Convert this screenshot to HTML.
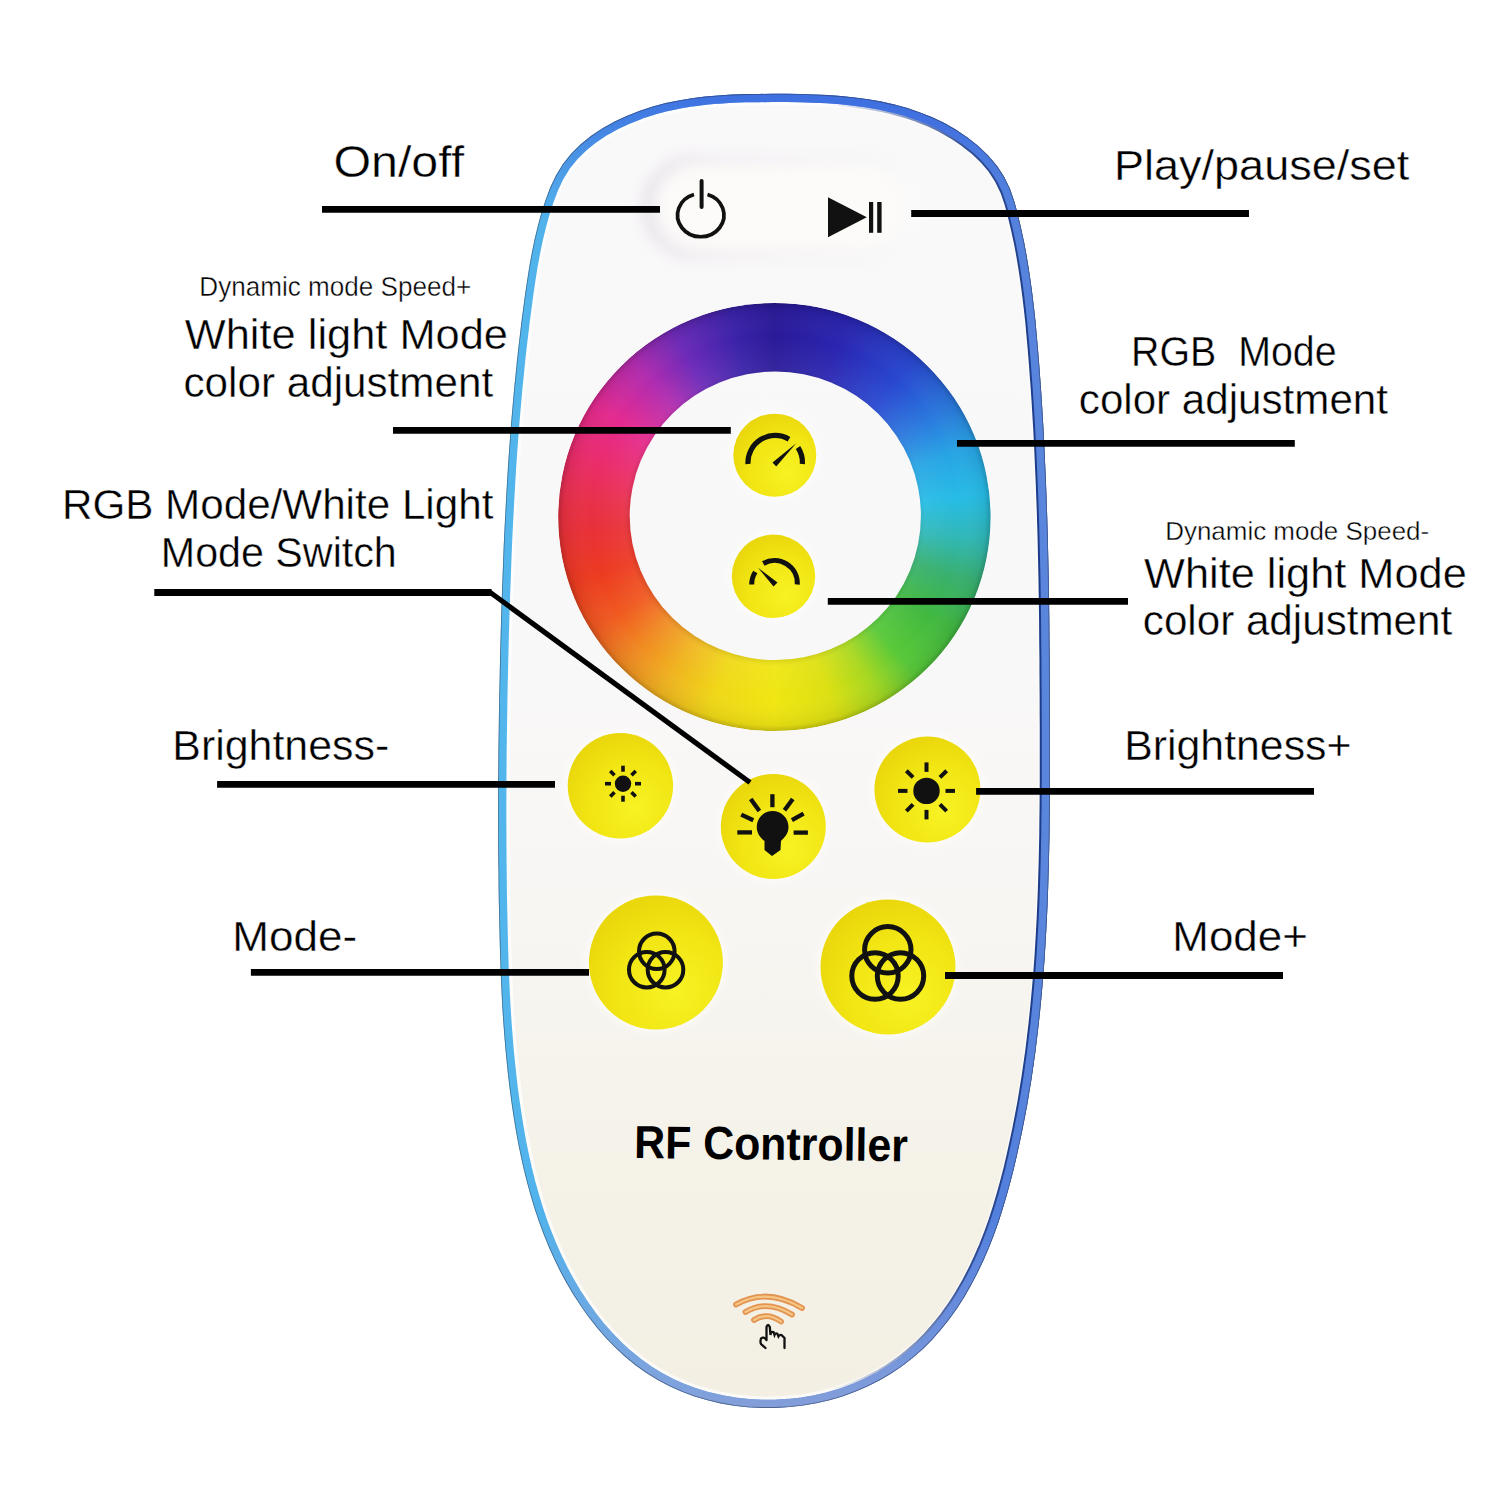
<!DOCTYPE html>
<html><head><meta charset="utf-8"><style>
html,body{margin:0;padding:0;background:#fff;width:1500px;height:1500px;overflow:hidden}
svg{display:block}
text{font-family:"Liberation Sans",sans-serif;fill:#000;white-space:pre}
text.lbl{stroke:#fff;stroke-width:0.4px}
</style></head><body>
<svg width="1500" height="1500" viewBox="0 0 1500 1500">
<defs>
<linearGradient id="bandH" x1="500" y1="0" x2="1050" y2="0" gradientUnits="userSpaceOnUse">
<stop offset="0" stop-color="#52b6ec"/><stop offset="0.3" stop-color="#4fa8e8"/><stop offset="0.55" stop-color="#4a86e2"/><stop offset="0.8" stop-color="#4a78de"/><stop offset="1" stop-color="#5a86dc"/>
</linearGradient>
<linearGradient id="bandV" x1="0" y1="90" x2="0" y2="1410" gradientUnits="userSpaceOnUse">
<stop offset="0" stop-color="#3c6ce0" stop-opacity="0.95"/><stop offset="0.035" stop-color="#4070e0" stop-opacity="0.6"/><stop offset="0.1" stop-color="#4a80e0" stop-opacity="0"/><stop offset="0.85" stop-color="#8aa4dc" stop-opacity="0"/><stop offset="0.97" stop-color="#8aa2da" stop-opacity="0.75"/><stop offset="1" stop-color="#8aa0d8" stop-opacity="0.9"/>
</linearGradient>
<linearGradient id="navy" x1="500" y1="0" x2="1050" y2="0" gradientUnits="userSpaceOnUse">
<stop offset="0" stop-color="#1a3a80" stop-opacity="0"/><stop offset="0.6" stop-color="#1a3a80" stop-opacity="0"/><stop offset="0.85" stop-color="#1a3a88" stop-opacity="0.9"/><stop offset="1" stop-color="#1a3a88" stop-opacity="1"/>
</linearGradient>
<linearGradient id="bodyfill" x1="0" y1="90" x2="0" y2="1410" gradientUnits="userSpaceOnUse">
<stop offset="0" stop-color="#faf9fa"/><stop offset="0.45" stop-color="#f9f8f8"/><stop offset="0.62" stop-color="#f8f6f3"/><stop offset="0.8" stop-color="#f5f2e9"/><stop offset="1" stop-color="#f3efe3"/>
</linearGradient>
<radialGradient id="ringshade" cx="0.5" cy="0.5" r="0.5">
<stop offset="0.66" stop-color="#000" stop-opacity="0.12"/><stop offset="0.70" stop-color="#fff" stop-opacity="0.05"/><stop offset="0.85" stop-color="#fff" stop-opacity="0"/><stop offset="0.975" stop-color="#000" stop-opacity="0.06"/><stop offset="1" stop-color="#000" stop-opacity="0.2"/>
</radialGradient>
<mask id="ringmask" maskUnits="userSpaceOnUse" x="500" y="250" width="550" height="550">
<ellipse cx="774.4" cy="517" rx="216.2" ry="214" fill="#fff"/>
<ellipse cx="775.3" cy="515.8" rx="145.6" ry="144.3" fill="#000"/>
</mask>
<clipPath id="bodyclip"><path d="M772.5,93.8 L786.2,93.8 L799.9,94.0 L813.6,94.4 L827.3,95.1 L841.0,96.1 L854.5,97.5 L868.0,99.3 L881.2,101.6 L894.3,104.6 L907.2,108.1 L919.9,112.4 L932.2,117.3 L944.3,123.1 L956.0,129.8 L967.4,137.4 L978.2,145.9 L988.1,155.4 L996.9,165.7 L1004.2,177.0 L1010.0,189.0 L1014.4,201.7 L1017.9,214.8 L1021.0,227.9 L1023.9,241.2 L1026.4,254.5 L1028.6,267.8 L1030.6,281.2 L1032.4,294.6 L1034.0,308.1 L1035.5,321.6 L1036.7,335.1 L1037.9,348.6 L1039.0,362.1 L1040.0,375.6 L1041.0,389.1 L1041.9,402.6 L1042.7,416.1 L1043.5,429.6 L1044.2,443.1 L1044.8,456.6 L1045.4,470.1 L1046.0,483.6 L1046.5,497.0 L1047.0,510.5 L1047.4,524.0 L1047.8,537.5 L1048.1,551.0 L1048.4,564.5 L1048.7,578.0 L1048.9,591.5 L1049.1,605.0 L1049.3,618.5 L1049.4,632.0 L1049.5,645.5 L1049.7,659.0 L1049.7,672.5 L1049.8,686.1 L1049.9,699.6 L1049.9,713.1 L1050.0,726.7 L1050.0,740.2 L1050.0,753.8 L1050.0,767.4 L1050.0,780.9 L1049.9,794.5 L1049.8,808.1 L1049.6,821.6 L1049.5,835.2 L1049.2,848.8 L1048.9,862.3 L1048.5,875.9 L1048.1,889.4 L1047.6,903.0 L1047.0,916.5 L1046.3,930.0 L1045.5,943.6 L1044.7,957.1 L1043.7,970.5 L1042.6,984.0 L1041.4,997.5 L1040.1,1010.9 L1038.7,1024.3 L1037.1,1037.7 L1035.5,1051.1 L1033.6,1064.5 L1031.7,1077.8 L1029.5,1091.1 L1027.3,1104.4 L1024.8,1117.7 L1022.2,1130.9 L1019.4,1144.1 L1016.5,1157.3 L1013.4,1170.5 L1010.0,1183.6 L1006.4,1196.6 L1002.5,1209.6 L998.4,1222.4 L993.8,1235.2 L988.9,1247.8 L983.5,1260.2 L977.7,1272.5 L971.4,1284.5 L964.6,1296.4 L957.3,1307.9 L949.4,1319.0 L941.0,1329.6 L932.1,1339.8 L922.6,1349.3 L912.5,1358.1 L901.9,1366.3 L890.8,1373.7 L879.3,1380.5 L867.3,1386.5 L855.0,1391.8 L842.3,1396.4 L829.3,1400.2 L816.1,1403.3 L802.7,1405.6 L789.1,1407.1 L775.4,1407.9 L761.7,1407.9 L748.0,1407.2 L734.4,1405.7 L720.9,1403.4 L707.7,1400.3 L694.6,1396.4 L682.0,1391.7 L669.6,1386.3 L657.8,1380.0 L646.4,1373.0 L635.5,1365.2 L625.1,1356.7 L615.2,1347.6 L605.9,1338.0 L597.0,1327.8 L588.6,1317.1 L580.8,1306.1 L573.4,1294.7 L566.5,1283.0 L560.1,1271.2 L554.2,1259.0 L548.7,1246.7 L543.6,1234.2 L538.9,1221.5 L534.6,1208.7 L530.7,1195.7 L527.1,1182.6 L523.8,1169.4 L520.8,1156.1 L518.1,1142.8 L515.7,1129.4 L513.5,1115.9 L511.5,1102.5 L509.7,1089.0 L508.1,1075.6 L506.7,1062.1 L505.4,1048.7 L504.3,1035.3 L503.3,1021.8 L502.4,1008.4 L501.7,995.0 L501.1,981.5 L500.5,968.1 L500.1,954.6 L499.7,941.2 L499.4,927.7 L499.1,914.2 L498.8,900.7 L498.6,887.2 L498.5,873.7 L498.3,860.2 L498.2,846.6 L498.2,833.1 L498.1,819.6 L498.1,806.0 L498.2,792.5 L498.2,778.9 L498.3,765.3 L498.4,751.8 L498.6,738.2 L498.8,724.6 L499.0,711.1 L499.2,697.5 L499.5,683.9 L499.8,670.4 L500.1,656.8 L500.4,643.3 L500.8,629.8 L501.2,616.2 L501.6,602.7 L502.1,589.2 L502.6,575.7 L503.1,562.2 L503.6,548.7 L504.2,535.2 L504.9,521.7 L505.6,508.2 L506.3,494.8 L507.1,481.3 L507.9,467.8 L508.8,454.4 L509.8,440.9 L510.8,427.4 L511.9,414.0 L513.1,400.5 L514.3,387.1 L515.7,373.6 L517.0,360.2 L518.5,346.7 L520.1,333.2 L521.7,319.8 L523.5,306.3 L525.3,292.8 L527.3,279.4 L529.4,265.9 L531.9,252.6 L534.6,239.3 L537.8,226.1 L541.3,213.1 L545.5,200.2 L550.2,187.6 L555.9,175.5 L562.8,164.2 L571.1,153.8 L580.7,144.3 L591.2,135.8 L602.6,128.2 L614.7,121.5 L627.2,115.7 L639.9,110.7 L652.8,106.6 L665.7,103.1 L678.8,100.4 L691.9,98.2 L705.2,96.6 L718.5,95.4 L731.9,94.6 L745.3,94.1 L758.9,93.9Z"/></clipPath>
<radialGradient id="yel" cx="0.62" cy="0.68" r="0.75" fx="0.65" fy="0.72">
<stop offset="0" stop-color="#f8f224"/><stop offset="0.55" stop-color="#f2e614"/><stop offset="1" stop-color="#e8d40a"/>
</radialGradient>
<linearGradient id="recG" x1="641" y1="0" x2="919" y2="0" gradientUnits="userSpaceOnUse">
<stop offset="0" stop-color="#d8d0dc" stop-opacity="0.75"/><stop offset="0.3" stop-color="#ddd6e0" stop-opacity="0.35"/><stop offset="0.7" stop-color="#e4dfe4" stop-opacity="0.2"/><stop offset="1" stop-color="#ffffff" stop-opacity="0.6"/>
</linearGradient>
<filter id="soft" x="-20%" y="-20%" width="140%" height="140%"><feGaussianBlur stdDeviation="3"/></filter>
<filter id="blur8" x="-30%" y="-30%" width="160%" height="160%"><feGaussianBlur stdDeviation="8"/></filter>
</defs>
<!-- remote body -->
<path d="M772.5,93.8 L786.2,93.8 L799.9,94.0 L813.6,94.4 L827.3,95.1 L841.0,96.1 L854.5,97.5 L868.0,99.3 L881.2,101.6 L894.3,104.6 L907.2,108.1 L919.9,112.4 L932.2,117.3 L944.3,123.1 L956.0,129.8 L967.4,137.4 L978.2,145.9 L988.1,155.4 L996.9,165.7 L1004.2,177.0 L1010.0,189.0 L1014.4,201.7 L1017.9,214.8 L1021.0,227.9 L1023.9,241.2 L1026.4,254.5 L1028.6,267.8 L1030.6,281.2 L1032.4,294.6 L1034.0,308.1 L1035.5,321.6 L1036.7,335.1 L1037.9,348.6 L1039.0,362.1 L1040.0,375.6 L1041.0,389.1 L1041.9,402.6 L1042.7,416.1 L1043.5,429.6 L1044.2,443.1 L1044.8,456.6 L1045.4,470.1 L1046.0,483.6 L1046.5,497.0 L1047.0,510.5 L1047.4,524.0 L1047.8,537.5 L1048.1,551.0 L1048.4,564.5 L1048.7,578.0 L1048.9,591.5 L1049.1,605.0 L1049.3,618.5 L1049.4,632.0 L1049.5,645.5 L1049.7,659.0 L1049.7,672.5 L1049.8,686.1 L1049.9,699.6 L1049.9,713.1 L1050.0,726.7 L1050.0,740.2 L1050.0,753.8 L1050.0,767.4 L1050.0,780.9 L1049.9,794.5 L1049.8,808.1 L1049.6,821.6 L1049.5,835.2 L1049.2,848.8 L1048.9,862.3 L1048.5,875.9 L1048.1,889.4 L1047.6,903.0 L1047.0,916.5 L1046.3,930.0 L1045.5,943.6 L1044.7,957.1 L1043.7,970.5 L1042.6,984.0 L1041.4,997.5 L1040.1,1010.9 L1038.7,1024.3 L1037.1,1037.7 L1035.5,1051.1 L1033.6,1064.5 L1031.7,1077.8 L1029.5,1091.1 L1027.3,1104.4 L1024.8,1117.7 L1022.2,1130.9 L1019.4,1144.1 L1016.5,1157.3 L1013.4,1170.5 L1010.0,1183.6 L1006.4,1196.6 L1002.5,1209.6 L998.4,1222.4 L993.8,1235.2 L988.9,1247.8 L983.5,1260.2 L977.7,1272.5 L971.4,1284.5 L964.6,1296.4 L957.3,1307.9 L949.4,1319.0 L941.0,1329.6 L932.1,1339.8 L922.6,1349.3 L912.5,1358.1 L901.9,1366.3 L890.8,1373.7 L879.3,1380.5 L867.3,1386.5 L855.0,1391.8 L842.3,1396.4 L829.3,1400.2 L816.1,1403.3 L802.7,1405.6 L789.1,1407.1 L775.4,1407.9 L761.7,1407.9 L748.0,1407.2 L734.4,1405.7 L720.9,1403.4 L707.7,1400.3 L694.6,1396.4 L682.0,1391.7 L669.6,1386.3 L657.8,1380.0 L646.4,1373.0 L635.5,1365.2 L625.1,1356.7 L615.2,1347.6 L605.9,1338.0 L597.0,1327.8 L588.6,1317.1 L580.8,1306.1 L573.4,1294.7 L566.5,1283.0 L560.1,1271.2 L554.2,1259.0 L548.7,1246.7 L543.6,1234.2 L538.9,1221.5 L534.6,1208.7 L530.7,1195.7 L527.1,1182.6 L523.8,1169.4 L520.8,1156.1 L518.1,1142.8 L515.7,1129.4 L513.5,1115.9 L511.5,1102.5 L509.7,1089.0 L508.1,1075.6 L506.7,1062.1 L505.4,1048.7 L504.3,1035.3 L503.3,1021.8 L502.4,1008.4 L501.7,995.0 L501.1,981.5 L500.5,968.1 L500.1,954.6 L499.7,941.2 L499.4,927.7 L499.1,914.2 L498.8,900.7 L498.6,887.2 L498.5,873.7 L498.3,860.2 L498.2,846.6 L498.2,833.1 L498.1,819.6 L498.1,806.0 L498.2,792.5 L498.2,778.9 L498.3,765.3 L498.4,751.8 L498.6,738.2 L498.8,724.6 L499.0,711.1 L499.2,697.5 L499.5,683.9 L499.8,670.4 L500.1,656.8 L500.4,643.3 L500.8,629.8 L501.2,616.2 L501.6,602.7 L502.1,589.2 L502.6,575.7 L503.1,562.2 L503.6,548.7 L504.2,535.2 L504.9,521.7 L505.6,508.2 L506.3,494.8 L507.1,481.3 L507.9,467.8 L508.8,454.4 L509.8,440.9 L510.8,427.4 L511.9,414.0 L513.1,400.5 L514.3,387.1 L515.7,373.6 L517.0,360.2 L518.5,346.7 L520.1,333.2 L521.7,319.8 L523.5,306.3 L525.3,292.8 L527.3,279.4 L529.4,265.9 L531.9,252.6 L534.6,239.3 L537.8,226.1 L541.3,213.1 L545.5,200.2 L550.2,187.6 L555.9,175.5 L562.8,164.2 L571.1,153.8 L580.7,144.3 L591.2,135.8 L602.6,128.2 L614.7,121.5 L627.2,115.7 L639.9,110.7 L652.8,106.6 L665.7,103.1 L678.8,100.4 L691.9,98.2 L705.2,96.6 L718.5,95.4 L731.9,94.6 L745.3,94.1 L758.9,93.9Z" fill="url(#bodyfill)"/>
<!-- recess around power/play -->
<g clip-path="url(#bodyclip)">
<rect x="648" y="160" width="266" height="94" rx="47" fill="none" stroke="url(#recG)" stroke-width="10" filter="url(#blur8)"/>
<rect x="660" y="168" width="245" height="80" rx="40" fill="#fdfcf8" opacity="0.7" filter="url(#blur8)"/>
</g>
<!-- band -->
<g clip-path="url(#bodyclip)" fill="none">
<path d="M772.5,93.8 L786.2,93.8 L799.9,94.0 L813.6,94.4 L827.3,95.1 L841.0,96.1 L854.5,97.5 L868.0,99.3 L881.2,101.6 L894.3,104.6 L907.2,108.1 L919.9,112.4 L932.2,117.3 L944.3,123.1 L956.0,129.8 L967.4,137.4 L978.2,145.9 L988.1,155.4 L996.9,165.7 L1004.2,177.0 L1010.0,189.0 L1014.4,201.7 L1017.9,214.8 L1021.0,227.9 L1023.9,241.2 L1026.4,254.5 L1028.6,267.8 L1030.6,281.2 L1032.4,294.6 L1034.0,308.1 L1035.5,321.6 L1036.7,335.1 L1037.9,348.6 L1039.0,362.1 L1040.0,375.6 L1041.0,389.1 L1041.9,402.6 L1042.7,416.1 L1043.5,429.6 L1044.2,443.1 L1044.8,456.6 L1045.4,470.1 L1046.0,483.6 L1046.5,497.0 L1047.0,510.5 L1047.4,524.0 L1047.8,537.5 L1048.1,551.0 L1048.4,564.5 L1048.7,578.0 L1048.9,591.5 L1049.1,605.0 L1049.3,618.5 L1049.4,632.0 L1049.5,645.5 L1049.7,659.0 L1049.7,672.5 L1049.8,686.1 L1049.9,699.6 L1049.9,713.1 L1050.0,726.7 L1050.0,740.2 L1050.0,753.8 L1050.0,767.4 L1050.0,780.9 L1049.9,794.5 L1049.8,808.1 L1049.6,821.6 L1049.5,835.2 L1049.2,848.8 L1048.9,862.3 L1048.5,875.9 L1048.1,889.4 L1047.6,903.0 L1047.0,916.5 L1046.3,930.0 L1045.5,943.6 L1044.7,957.1 L1043.7,970.5 L1042.6,984.0 L1041.4,997.5 L1040.1,1010.9 L1038.7,1024.3 L1037.1,1037.7 L1035.5,1051.1 L1033.6,1064.5 L1031.7,1077.8 L1029.5,1091.1 L1027.3,1104.4 L1024.8,1117.7 L1022.2,1130.9 L1019.4,1144.1 L1016.5,1157.3 L1013.4,1170.5 L1010.0,1183.6 L1006.4,1196.6 L1002.5,1209.6 L998.4,1222.4 L993.8,1235.2 L988.9,1247.8 L983.5,1260.2 L977.7,1272.5 L971.4,1284.5 L964.6,1296.4 L957.3,1307.9 L949.4,1319.0 L941.0,1329.6 L932.1,1339.8 L922.6,1349.3 L912.5,1358.1 L901.9,1366.3 L890.8,1373.7 L879.3,1380.5 L867.3,1386.5 L855.0,1391.8 L842.3,1396.4 L829.3,1400.2 L816.1,1403.3 L802.7,1405.6 L789.1,1407.1 L775.4,1407.9 L761.7,1407.9 L748.0,1407.2 L734.4,1405.7 L720.9,1403.4 L707.7,1400.3 L694.6,1396.4 L682.0,1391.7 L669.6,1386.3 L657.8,1380.0 L646.4,1373.0 L635.5,1365.2 L625.1,1356.7 L615.2,1347.6 L605.9,1338.0 L597.0,1327.8 L588.6,1317.1 L580.8,1306.1 L573.4,1294.7 L566.5,1283.0 L560.1,1271.2 L554.2,1259.0 L548.7,1246.7 L543.6,1234.2 L538.9,1221.5 L534.6,1208.7 L530.7,1195.7 L527.1,1182.6 L523.8,1169.4 L520.8,1156.1 L518.1,1142.8 L515.7,1129.4 L513.5,1115.9 L511.5,1102.5 L509.7,1089.0 L508.1,1075.6 L506.7,1062.1 L505.4,1048.7 L504.3,1035.3 L503.3,1021.8 L502.4,1008.4 L501.7,995.0 L501.1,981.5 L500.5,968.1 L500.1,954.6 L499.7,941.2 L499.4,927.7 L499.1,914.2 L498.8,900.7 L498.6,887.2 L498.5,873.7 L498.3,860.2 L498.2,846.6 L498.2,833.1 L498.1,819.6 L498.1,806.0 L498.2,792.5 L498.2,778.9 L498.3,765.3 L498.4,751.8 L498.6,738.2 L498.8,724.6 L499.0,711.1 L499.2,697.5 L499.5,683.9 L499.8,670.4 L500.1,656.8 L500.4,643.3 L500.8,629.8 L501.2,616.2 L501.6,602.7 L502.1,589.2 L502.6,575.7 L503.1,562.2 L503.6,548.7 L504.2,535.2 L504.9,521.7 L505.6,508.2 L506.3,494.8 L507.1,481.3 L507.9,467.8 L508.8,454.4 L509.8,440.9 L510.8,427.4 L511.9,414.0 L513.1,400.5 L514.3,387.1 L515.7,373.6 L517.0,360.2 L518.5,346.7 L520.1,333.2 L521.7,319.8 L523.5,306.3 L525.3,292.8 L527.3,279.4 L529.4,265.9 L531.9,252.6 L534.6,239.3 L537.8,226.1 L541.3,213.1 L545.5,200.2 L550.2,187.6 L555.9,175.5 L562.8,164.2 L571.1,153.8 L580.7,144.3 L591.2,135.8 L602.6,128.2 L614.7,121.5 L627.2,115.7 L639.9,110.7 L652.8,106.6 L665.7,103.1 L678.8,100.4 L691.9,98.2 L705.2,96.6 L718.5,95.4 L731.9,94.6 L745.3,94.1 L758.9,93.9Z" stroke="#ffffff" stroke-width="23" opacity="0.7"/>
<path d="M772.5,93.8 L786.2,93.8 L799.9,94.0 L813.6,94.4 L827.3,95.1 L841.0,96.1 L854.5,97.5 L868.0,99.3 L881.2,101.6 L894.3,104.6 L907.2,108.1 L919.9,112.4 L932.2,117.3 L944.3,123.1 L956.0,129.8 L967.4,137.4 L978.2,145.9 L988.1,155.4 L996.9,165.7 L1004.2,177.0 L1010.0,189.0 L1014.4,201.7 L1017.9,214.8 L1021.0,227.9 L1023.9,241.2 L1026.4,254.5 L1028.6,267.8 L1030.6,281.2 L1032.4,294.6 L1034.0,308.1 L1035.5,321.6 L1036.7,335.1 L1037.9,348.6 L1039.0,362.1 L1040.0,375.6 L1041.0,389.1 L1041.9,402.6 L1042.7,416.1 L1043.5,429.6 L1044.2,443.1 L1044.8,456.6 L1045.4,470.1 L1046.0,483.6 L1046.5,497.0 L1047.0,510.5 L1047.4,524.0 L1047.8,537.5 L1048.1,551.0 L1048.4,564.5 L1048.7,578.0 L1048.9,591.5 L1049.1,605.0 L1049.3,618.5 L1049.4,632.0 L1049.5,645.5 L1049.7,659.0 L1049.7,672.5 L1049.8,686.1 L1049.9,699.6 L1049.9,713.1 L1050.0,726.7 L1050.0,740.2 L1050.0,753.8 L1050.0,767.4 L1050.0,780.9 L1049.9,794.5 L1049.8,808.1 L1049.6,821.6 L1049.5,835.2 L1049.2,848.8 L1048.9,862.3 L1048.5,875.9 L1048.1,889.4 L1047.6,903.0 L1047.0,916.5 L1046.3,930.0 L1045.5,943.6 L1044.7,957.1 L1043.7,970.5 L1042.6,984.0 L1041.4,997.5 L1040.1,1010.9 L1038.7,1024.3 L1037.1,1037.7 L1035.5,1051.1 L1033.6,1064.5 L1031.7,1077.8 L1029.5,1091.1 L1027.3,1104.4 L1024.8,1117.7 L1022.2,1130.9 L1019.4,1144.1 L1016.5,1157.3 L1013.4,1170.5 L1010.0,1183.6 L1006.4,1196.6 L1002.5,1209.6 L998.4,1222.4 L993.8,1235.2 L988.9,1247.8 L983.5,1260.2 L977.7,1272.5 L971.4,1284.5 L964.6,1296.4 L957.3,1307.9 L949.4,1319.0 L941.0,1329.6 L932.1,1339.8 L922.6,1349.3 L912.5,1358.1 L901.9,1366.3 L890.8,1373.7 L879.3,1380.5 L867.3,1386.5 L855.0,1391.8 L842.3,1396.4 L829.3,1400.2 L816.1,1403.3 L802.7,1405.6 L789.1,1407.1 L775.4,1407.9 L761.7,1407.9 L748.0,1407.2 L734.4,1405.7 L720.9,1403.4 L707.7,1400.3 L694.6,1396.4 L682.0,1391.7 L669.6,1386.3 L657.8,1380.0 L646.4,1373.0 L635.5,1365.2 L625.1,1356.7 L615.2,1347.6 L605.9,1338.0 L597.0,1327.8 L588.6,1317.1 L580.8,1306.1 L573.4,1294.7 L566.5,1283.0 L560.1,1271.2 L554.2,1259.0 L548.7,1246.7 L543.6,1234.2 L538.9,1221.5 L534.6,1208.7 L530.7,1195.7 L527.1,1182.6 L523.8,1169.4 L520.8,1156.1 L518.1,1142.8 L515.7,1129.4 L513.5,1115.9 L511.5,1102.5 L509.7,1089.0 L508.1,1075.6 L506.7,1062.1 L505.4,1048.7 L504.3,1035.3 L503.3,1021.8 L502.4,1008.4 L501.7,995.0 L501.1,981.5 L500.5,968.1 L500.1,954.6 L499.7,941.2 L499.4,927.7 L499.1,914.2 L498.8,900.7 L498.6,887.2 L498.5,873.7 L498.3,860.2 L498.2,846.6 L498.2,833.1 L498.1,819.6 L498.1,806.0 L498.2,792.5 L498.2,778.9 L498.3,765.3 L498.4,751.8 L498.6,738.2 L498.8,724.6 L499.0,711.1 L499.2,697.5 L499.5,683.9 L499.8,670.4 L500.1,656.8 L500.4,643.3 L500.8,629.8 L501.2,616.2 L501.6,602.7 L502.1,589.2 L502.6,575.7 L503.1,562.2 L503.6,548.7 L504.2,535.2 L504.9,521.7 L505.6,508.2 L506.3,494.8 L507.1,481.3 L507.9,467.8 L508.8,454.4 L509.8,440.9 L510.8,427.4 L511.9,414.0 L513.1,400.5 L514.3,387.1 L515.7,373.6 L517.0,360.2 L518.5,346.7 L520.1,333.2 L521.7,319.8 L523.5,306.3 L525.3,292.8 L527.3,279.4 L529.4,265.9 L531.9,252.6 L534.6,239.3 L537.8,226.1 L541.3,213.1 L545.5,200.2 L550.2,187.6 L555.9,175.5 L562.8,164.2 L571.1,153.8 L580.7,144.3 L591.2,135.8 L602.6,128.2 L614.7,121.5 L627.2,115.7 L639.9,110.7 L652.8,106.6 L665.7,103.1 L678.8,100.4 L691.9,98.2 L705.2,96.6 L718.5,95.4 L731.9,94.6 L745.3,94.1 L758.9,93.9Z" stroke="url(#navy)" stroke-width="20.5"/>
<path d="M772.5,93.8 L786.2,93.8 L799.9,94.0 L813.6,94.4 L827.3,95.1 L841.0,96.1 L854.5,97.5 L868.0,99.3 L881.2,101.6 L894.3,104.6 L907.2,108.1 L919.9,112.4 L932.2,117.3 L944.3,123.1 L956.0,129.8 L967.4,137.4 L978.2,145.9 L988.1,155.4 L996.9,165.7 L1004.2,177.0 L1010.0,189.0 L1014.4,201.7 L1017.9,214.8 L1021.0,227.9 L1023.9,241.2 L1026.4,254.5 L1028.6,267.8 L1030.6,281.2 L1032.4,294.6 L1034.0,308.1 L1035.5,321.6 L1036.7,335.1 L1037.9,348.6 L1039.0,362.1 L1040.0,375.6 L1041.0,389.1 L1041.9,402.6 L1042.7,416.1 L1043.5,429.6 L1044.2,443.1 L1044.8,456.6 L1045.4,470.1 L1046.0,483.6 L1046.5,497.0 L1047.0,510.5 L1047.4,524.0 L1047.8,537.5 L1048.1,551.0 L1048.4,564.5 L1048.7,578.0 L1048.9,591.5 L1049.1,605.0 L1049.3,618.5 L1049.4,632.0 L1049.5,645.5 L1049.7,659.0 L1049.7,672.5 L1049.8,686.1 L1049.9,699.6 L1049.9,713.1 L1050.0,726.7 L1050.0,740.2 L1050.0,753.8 L1050.0,767.4 L1050.0,780.9 L1049.9,794.5 L1049.8,808.1 L1049.6,821.6 L1049.5,835.2 L1049.2,848.8 L1048.9,862.3 L1048.5,875.9 L1048.1,889.4 L1047.6,903.0 L1047.0,916.5 L1046.3,930.0 L1045.5,943.6 L1044.7,957.1 L1043.7,970.5 L1042.6,984.0 L1041.4,997.5 L1040.1,1010.9 L1038.7,1024.3 L1037.1,1037.7 L1035.5,1051.1 L1033.6,1064.5 L1031.7,1077.8 L1029.5,1091.1 L1027.3,1104.4 L1024.8,1117.7 L1022.2,1130.9 L1019.4,1144.1 L1016.5,1157.3 L1013.4,1170.5 L1010.0,1183.6 L1006.4,1196.6 L1002.5,1209.6 L998.4,1222.4 L993.8,1235.2 L988.9,1247.8 L983.5,1260.2 L977.7,1272.5 L971.4,1284.5 L964.6,1296.4 L957.3,1307.9 L949.4,1319.0 L941.0,1329.6 L932.1,1339.8 L922.6,1349.3 L912.5,1358.1 L901.9,1366.3 L890.8,1373.7 L879.3,1380.5 L867.3,1386.5 L855.0,1391.8 L842.3,1396.4 L829.3,1400.2 L816.1,1403.3 L802.7,1405.6 L789.1,1407.1 L775.4,1407.9 L761.7,1407.9 L748.0,1407.2 L734.4,1405.7 L720.9,1403.4 L707.7,1400.3 L694.6,1396.4 L682.0,1391.7 L669.6,1386.3 L657.8,1380.0 L646.4,1373.0 L635.5,1365.2 L625.1,1356.7 L615.2,1347.6 L605.9,1338.0 L597.0,1327.8 L588.6,1317.1 L580.8,1306.1 L573.4,1294.7 L566.5,1283.0 L560.1,1271.2 L554.2,1259.0 L548.7,1246.7 L543.6,1234.2 L538.9,1221.5 L534.6,1208.7 L530.7,1195.7 L527.1,1182.6 L523.8,1169.4 L520.8,1156.1 L518.1,1142.8 L515.7,1129.4 L513.5,1115.9 L511.5,1102.5 L509.7,1089.0 L508.1,1075.6 L506.7,1062.1 L505.4,1048.7 L504.3,1035.3 L503.3,1021.8 L502.4,1008.4 L501.7,995.0 L501.1,981.5 L500.5,968.1 L500.1,954.6 L499.7,941.2 L499.4,927.7 L499.1,914.2 L498.8,900.7 L498.6,887.2 L498.5,873.7 L498.3,860.2 L498.2,846.6 L498.2,833.1 L498.1,819.6 L498.1,806.0 L498.2,792.5 L498.2,778.9 L498.3,765.3 L498.4,751.8 L498.6,738.2 L498.8,724.6 L499.0,711.1 L499.2,697.5 L499.5,683.9 L499.8,670.4 L500.1,656.8 L500.4,643.3 L500.8,629.8 L501.2,616.2 L501.6,602.7 L502.1,589.2 L502.6,575.7 L503.1,562.2 L503.6,548.7 L504.2,535.2 L504.9,521.7 L505.6,508.2 L506.3,494.8 L507.1,481.3 L507.9,467.8 L508.8,454.4 L509.8,440.9 L510.8,427.4 L511.9,414.0 L513.1,400.5 L514.3,387.1 L515.7,373.6 L517.0,360.2 L518.5,346.7 L520.1,333.2 L521.7,319.8 L523.5,306.3 L525.3,292.8 L527.3,279.4 L529.4,265.9 L531.9,252.6 L534.6,239.3 L537.8,226.1 L541.3,213.1 L545.5,200.2 L550.2,187.6 L555.9,175.5 L562.8,164.2 L571.1,153.8 L580.7,144.3 L591.2,135.8 L602.6,128.2 L614.7,121.5 L627.2,115.7 L639.9,110.7 L652.8,106.6 L665.7,103.1 L678.8,100.4 L691.9,98.2 L705.2,96.6 L718.5,95.4 L731.9,94.6 L745.3,94.1 L758.9,93.9Z" stroke="url(#bandH)" stroke-width="16.5"/>
<path d="M772.5,93.8 L786.2,93.8 L799.9,94.0 L813.6,94.4 L827.3,95.1 L841.0,96.1 L854.5,97.5 L868.0,99.3 L881.2,101.6 L894.3,104.6 L907.2,108.1 L919.9,112.4 L932.2,117.3 L944.3,123.1 L956.0,129.8 L967.4,137.4 L978.2,145.9 L988.1,155.4 L996.9,165.7 L1004.2,177.0 L1010.0,189.0 L1014.4,201.7 L1017.9,214.8 L1021.0,227.9 L1023.9,241.2 L1026.4,254.5 L1028.6,267.8 L1030.6,281.2 L1032.4,294.6 L1034.0,308.1 L1035.5,321.6 L1036.7,335.1 L1037.9,348.6 L1039.0,362.1 L1040.0,375.6 L1041.0,389.1 L1041.9,402.6 L1042.7,416.1 L1043.5,429.6 L1044.2,443.1 L1044.8,456.6 L1045.4,470.1 L1046.0,483.6 L1046.5,497.0 L1047.0,510.5 L1047.4,524.0 L1047.8,537.5 L1048.1,551.0 L1048.4,564.5 L1048.7,578.0 L1048.9,591.5 L1049.1,605.0 L1049.3,618.5 L1049.4,632.0 L1049.5,645.5 L1049.7,659.0 L1049.7,672.5 L1049.8,686.1 L1049.9,699.6 L1049.9,713.1 L1050.0,726.7 L1050.0,740.2 L1050.0,753.8 L1050.0,767.4 L1050.0,780.9 L1049.9,794.5 L1049.8,808.1 L1049.6,821.6 L1049.5,835.2 L1049.2,848.8 L1048.9,862.3 L1048.5,875.9 L1048.1,889.4 L1047.6,903.0 L1047.0,916.5 L1046.3,930.0 L1045.5,943.6 L1044.7,957.1 L1043.7,970.5 L1042.6,984.0 L1041.4,997.5 L1040.1,1010.9 L1038.7,1024.3 L1037.1,1037.7 L1035.5,1051.1 L1033.6,1064.5 L1031.7,1077.8 L1029.5,1091.1 L1027.3,1104.4 L1024.8,1117.7 L1022.2,1130.9 L1019.4,1144.1 L1016.5,1157.3 L1013.4,1170.5 L1010.0,1183.6 L1006.4,1196.6 L1002.5,1209.6 L998.4,1222.4 L993.8,1235.2 L988.9,1247.8 L983.5,1260.2 L977.7,1272.5 L971.4,1284.5 L964.6,1296.4 L957.3,1307.9 L949.4,1319.0 L941.0,1329.6 L932.1,1339.8 L922.6,1349.3 L912.5,1358.1 L901.9,1366.3 L890.8,1373.7 L879.3,1380.5 L867.3,1386.5 L855.0,1391.8 L842.3,1396.4 L829.3,1400.2 L816.1,1403.3 L802.7,1405.6 L789.1,1407.1 L775.4,1407.9 L761.7,1407.9 L748.0,1407.2 L734.4,1405.7 L720.9,1403.4 L707.7,1400.3 L694.6,1396.4 L682.0,1391.7 L669.6,1386.3 L657.8,1380.0 L646.4,1373.0 L635.5,1365.2 L625.1,1356.7 L615.2,1347.6 L605.9,1338.0 L597.0,1327.8 L588.6,1317.1 L580.8,1306.1 L573.4,1294.7 L566.5,1283.0 L560.1,1271.2 L554.2,1259.0 L548.7,1246.7 L543.6,1234.2 L538.9,1221.5 L534.6,1208.7 L530.7,1195.7 L527.1,1182.6 L523.8,1169.4 L520.8,1156.1 L518.1,1142.8 L515.7,1129.4 L513.5,1115.9 L511.5,1102.5 L509.7,1089.0 L508.1,1075.6 L506.7,1062.1 L505.4,1048.7 L504.3,1035.3 L503.3,1021.8 L502.4,1008.4 L501.7,995.0 L501.1,981.5 L500.5,968.1 L500.1,954.6 L499.7,941.2 L499.4,927.7 L499.1,914.2 L498.8,900.7 L498.6,887.2 L498.5,873.7 L498.3,860.2 L498.2,846.6 L498.2,833.1 L498.1,819.6 L498.1,806.0 L498.2,792.5 L498.2,778.9 L498.3,765.3 L498.4,751.8 L498.6,738.2 L498.8,724.6 L499.0,711.1 L499.2,697.5 L499.5,683.9 L499.8,670.4 L500.1,656.8 L500.4,643.3 L500.8,629.8 L501.2,616.2 L501.6,602.7 L502.1,589.2 L502.6,575.7 L503.1,562.2 L503.6,548.7 L504.2,535.2 L504.9,521.7 L505.6,508.2 L506.3,494.8 L507.1,481.3 L507.9,467.8 L508.8,454.4 L509.8,440.9 L510.8,427.4 L511.9,414.0 L513.1,400.5 L514.3,387.1 L515.7,373.6 L517.0,360.2 L518.5,346.7 L520.1,333.2 L521.7,319.8 L523.5,306.3 L525.3,292.8 L527.3,279.4 L529.4,265.9 L531.9,252.6 L534.6,239.3 L537.8,226.1 L541.3,213.1 L545.5,200.2 L550.2,187.6 L555.9,175.5 L562.8,164.2 L571.1,153.8 L580.7,144.3 L591.2,135.8 L602.6,128.2 L614.7,121.5 L627.2,115.7 L639.9,110.7 L652.8,106.6 L665.7,103.1 L678.8,100.4 L691.9,98.2 L705.2,96.6 L718.5,95.4 L731.9,94.6 L745.3,94.1 L758.9,93.9Z" stroke="url(#bandV)" stroke-width="16.5"/>
<path d="M772.5,93.8 L786.2,93.8 L799.9,94.0 L813.6,94.4 L827.3,95.1 L841.0,96.1 L854.5,97.5 L868.0,99.3 L881.2,101.6 L894.3,104.6 L907.2,108.1 L919.9,112.4 L932.2,117.3 L944.3,123.1 L956.0,129.8 L967.4,137.4 L978.2,145.9 L988.1,155.4 L996.9,165.7 L1004.2,177.0 L1010.0,189.0 L1014.4,201.7 L1017.9,214.8 L1021.0,227.9 L1023.9,241.2 L1026.4,254.5 L1028.6,267.8 L1030.6,281.2 L1032.4,294.6 L1034.0,308.1 L1035.5,321.6 L1036.7,335.1 L1037.9,348.6 L1039.0,362.1 L1040.0,375.6 L1041.0,389.1 L1041.9,402.6 L1042.7,416.1 L1043.5,429.6 L1044.2,443.1 L1044.8,456.6 L1045.4,470.1 L1046.0,483.6 L1046.5,497.0 L1047.0,510.5 L1047.4,524.0 L1047.8,537.5 L1048.1,551.0 L1048.4,564.5 L1048.7,578.0 L1048.9,591.5 L1049.1,605.0 L1049.3,618.5 L1049.4,632.0 L1049.5,645.5 L1049.7,659.0 L1049.7,672.5 L1049.8,686.1 L1049.9,699.6 L1049.9,713.1 L1050.0,726.7 L1050.0,740.2 L1050.0,753.8 L1050.0,767.4 L1050.0,780.9 L1049.9,794.5 L1049.8,808.1 L1049.6,821.6 L1049.5,835.2 L1049.2,848.8 L1048.9,862.3 L1048.5,875.9 L1048.1,889.4 L1047.6,903.0 L1047.0,916.5 L1046.3,930.0 L1045.5,943.6 L1044.7,957.1 L1043.7,970.5 L1042.6,984.0 L1041.4,997.5 L1040.1,1010.9 L1038.7,1024.3 L1037.1,1037.7 L1035.5,1051.1 L1033.6,1064.5 L1031.7,1077.8 L1029.5,1091.1 L1027.3,1104.4 L1024.8,1117.7 L1022.2,1130.9 L1019.4,1144.1 L1016.5,1157.3 L1013.4,1170.5 L1010.0,1183.6 L1006.4,1196.6 L1002.5,1209.6 L998.4,1222.4 L993.8,1235.2 L988.9,1247.8 L983.5,1260.2 L977.7,1272.5 L971.4,1284.5 L964.6,1296.4 L957.3,1307.9 L949.4,1319.0 L941.0,1329.6 L932.1,1339.8 L922.6,1349.3 L912.5,1358.1 L901.9,1366.3 L890.8,1373.7 L879.3,1380.5 L867.3,1386.5 L855.0,1391.8 L842.3,1396.4 L829.3,1400.2 L816.1,1403.3 L802.7,1405.6 L789.1,1407.1 L775.4,1407.9 L761.7,1407.9 L748.0,1407.2 L734.4,1405.7 L720.9,1403.4 L707.7,1400.3 L694.6,1396.4 L682.0,1391.7 L669.6,1386.3 L657.8,1380.0 L646.4,1373.0 L635.5,1365.2 L625.1,1356.7 L615.2,1347.6 L605.9,1338.0 L597.0,1327.8 L588.6,1317.1 L580.8,1306.1 L573.4,1294.7 L566.5,1283.0 L560.1,1271.2 L554.2,1259.0 L548.7,1246.7 L543.6,1234.2 L538.9,1221.5 L534.6,1208.7 L530.7,1195.7 L527.1,1182.6 L523.8,1169.4 L520.8,1156.1 L518.1,1142.8 L515.7,1129.4 L513.5,1115.9 L511.5,1102.5 L509.7,1089.0 L508.1,1075.6 L506.7,1062.1 L505.4,1048.7 L504.3,1035.3 L503.3,1021.8 L502.4,1008.4 L501.7,995.0 L501.1,981.5 L500.5,968.1 L500.1,954.6 L499.7,941.2 L499.4,927.7 L499.1,914.2 L498.8,900.7 L498.6,887.2 L498.5,873.7 L498.3,860.2 L498.2,846.6 L498.2,833.1 L498.1,819.6 L498.1,806.0 L498.2,792.5 L498.2,778.9 L498.3,765.3 L498.4,751.8 L498.6,738.2 L498.8,724.6 L499.0,711.1 L499.2,697.5 L499.5,683.9 L499.8,670.4 L500.1,656.8 L500.4,643.3 L500.8,629.8 L501.2,616.2 L501.6,602.7 L502.1,589.2 L502.6,575.7 L503.1,562.2 L503.6,548.7 L504.2,535.2 L504.9,521.7 L505.6,508.2 L506.3,494.8 L507.1,481.3 L507.9,467.8 L508.8,454.4 L509.8,440.9 L510.8,427.4 L511.9,414.0 L513.1,400.5 L514.3,387.1 L515.7,373.6 L517.0,360.2 L518.5,346.7 L520.1,333.2 L521.7,319.8 L523.5,306.3 L525.3,292.8 L527.3,279.4 L529.4,265.9 L531.9,252.6 L534.6,239.3 L537.8,226.1 L541.3,213.1 L545.5,200.2 L550.2,187.6 L555.9,175.5 L562.8,164.2 L571.1,153.8 L580.7,144.3 L591.2,135.8 L602.6,128.2 L614.7,121.5 L627.2,115.7 L639.9,110.7 L652.8,106.6 L665.7,103.1 L678.8,100.4 L691.9,98.2 L705.2,96.6 L718.5,95.4 L731.9,94.6 L745.3,94.1 L758.9,93.9Z" stroke="#2a3550" stroke-width="1.6" opacity="0.55"/>
</g>
<!-- color ring -->
<g mask="url(#ringmask)">
<foreignObject x="558.2" y="303" width="432.4" height="428">
<div style="width:432.4px;height:428px;border-radius:50%;background:conic-gradient(from 0deg at 50% 50%,#2a1a98 0deg,#2a24b0 20deg,#2848d0 42deg,#2a7ade 58deg,#28a4e4 70deg,#26bce6 84deg,#30b8b8 96deg,#38b070 108deg,#40b840 122deg,#58c838 138deg,#a8d820 150deg,#dce012 163deg,#f0e612 180deg,#f0d818 198deg,#f0b420 213deg,#f08a22 226deg,#f05a20 238deg,#ec3a20 252deg,#e83038 266deg,#e8304a 275deg,#ea2c6a 287deg,#e42a90 302deg,#b02cb0 318deg,#6a2ab8 332deg,#3a22a8 348deg,#2a1a98 360deg)"></div>
</foreignObject>
<ellipse cx="774.4" cy="517" rx="216.2" ry="214" fill="url(#ringshade)"/>
</g>
<!-- buttons -->
<circle cx="774.8" cy="455.2" r="44.5" fill="#fff" opacity="0.55" filter="url(#soft)"/>
<circle cx="773.5" cy="576.3" r="44.7" fill="#fff" opacity="0.55" filter="url(#soft)"/>
<circle cx="620.4" cy="785.8" r="55.7" fill="#fff" opacity="0.55" filter="url(#soft)"/>
<circle cx="773.3" cy="826.5" r="55.5" fill="#fff" opacity="0.55" filter="url(#soft)"/>
<circle cx="927.4" cy="789.6" r="56" fill="#fff" opacity="0.55" filter="url(#soft)"/>
<circle cx="655.9" cy="962.5" r="70" fill="#fff" opacity="0.55" filter="url(#soft)"/>
<circle cx="888" cy="967" r="70.5" fill="#fff" opacity="0.55" filter="url(#soft)"/>
<circle cx="774.8" cy="455.2" r="41.5" fill="url(#yel)"/>
<circle cx="773.5" cy="576.3" r="41.7" fill="url(#yel)"/>
<circle cx="620.4" cy="785.8" r="52.7" fill="url(#yel)"/>
<circle cx="773.3" cy="826.5" r="52.5" fill="url(#yel)"/>
<circle cx="927.4" cy="789.6" r="53" fill="url(#yel)"/>
<circle cx="655.9" cy="962.5" r="67" fill="url(#yel)"/>
<circle cx="888" cy="967" r="67.5" fill="url(#yel)"/>
<!-- icons -->
<g fill="none" stroke="#111" stroke-linecap="butt">
 <path d="M694,194.5 A23.2,21.6 0 1 0 707.5,194.5" stroke-width="3.7"/>
 <line x1="701.6" y1="181" x2="701.6" y2="207" stroke-width="4" stroke-linecap="round"/>
 <path d="M748,464 A27.2,27.2 0 0 1 789,439.2" stroke-width="5.2"/>
 <path d="M798,447.5 A27.2,27.2 0 0 1 802.4,464" stroke-width="5.2"/>
 <path d="M763.3,563.5 A22.8,22.8 0 0 1 797.3,584.5" stroke-width="5"/>
 <path d="M751.7,584.5 A22.8,22.8 0 0 1 755.3,572" stroke-width="5"/>
 <circle cx="656.8" cy="951.3" r="17.8" stroke-width="4"/>
 <circle cx="646.8" cy="969.7" r="17.8" stroke-width="4"/>
 <circle cx="665.5" cy="969.7" r="17.8" stroke-width="4"/>
 <circle cx="887.8" cy="949.8" r="23.2" stroke-width="5"/>
 <circle cx="875" cy="976" r="23.2" stroke-width="5"/>
 <circle cx="900.5" cy="976" r="23.2" stroke-width="5"/>
</g>
<g fill="#111">
 <path d="M828,197.2 L866.8,217.2 L828,237.2Z"/>
 <rect x="869" y="202" width="4.2" height="30.8"/>
 <rect x="877.2" y="202" width="4.4" height="30.8"/>
 <path d="M772.5,462.5 L796.2,443.3 L776.2,466.5Z"/>
 <path d="M773.5,586.5 L758,567.7 L777.5,582.5Z"/>
 <circle cx="623" cy="783.7" r="8.2"/>
 <circle cx="926.5" cy="790.9" r="13.2"/>
 <path d="M772.6,811 C781.5,811 788.5,818 788.5,827 C788.5,834 784,838 781,841 L780.5,850 L772,856 L764.5,850 L764.5,841 C761,838 756.8,834 756.8,827 C756.8,818 763.7,811 772.6,811Z"/>
</g>
<g stroke="#111" stroke-width="3.6"><line x1="635.00" y1="783.70" x2="641.00" y2="783.70"/><line x1="631.49" y1="792.19" x2="635.73" y2="796.43"/><line x1="623.00" y1="795.70" x2="623.00" y2="801.70"/><line x1="614.51" y1="792.19" x2="610.27" y2="796.43"/><line x1="611.00" y1="783.70" x2="605.00" y2="783.70"/><line x1="614.51" y1="775.21" x2="610.27" y2="770.97"/><line x1="623.00" y1="771.70" x2="623.00" y2="765.70"/><line x1="631.49" y1="775.21" x2="635.73" y2="770.97"/></g>
<g stroke="#111" stroke-width="4"><line x1="945.50" y1="790.90" x2="955.00" y2="790.90"/><line x1="939.94" y1="804.34" x2="946.65" y2="811.05"/><line x1="926.50" y1="809.90" x2="926.50" y2="819.40"/><line x1="913.06" y1="804.34" x2="906.35" y2="811.05"/><line x1="907.50" y1="790.90" x2="898.00" y2="790.90"/><line x1="913.06" y1="777.46" x2="906.35" y2="770.75"/><line x1="926.50" y1="771.90" x2="926.50" y2="762.40"/><line x1="939.94" y1="777.46" x2="946.65" y2="770.75"/></g>
<g stroke="#111" stroke-width="4.3">
 <line x1="772.4" y1="794.2" x2="772.4" y2="807.2"/>
 <line x1="750.7" y1="799" x2="759.4" y2="811.1"/>
 <line x1="792.8" y1="799" x2="784.5" y2="810.3"/>
 <line x1="741.2" y1="814.6" x2="753.3" y2="820.2"/>
 <line x1="803.6" y1="813.7" x2="791.9" y2="820.2"/>
 <line x1="737.3" y1="832.4" x2="752" y2="832.4"/>
 <line x1="793.6" y1="832.6" x2="807.9" y2="832.6"/>
</g>
<!-- RF icon -->
<g fill="none" stroke-linecap="round">
 <path d="M736,1304.5 Q767,1287 802,1308" stroke="#e29450" stroke-width="5.8"/>
 <path d="M745.5,1312 Q767,1299 792,1314.5" stroke="#e29450" stroke-width="5.8"/>
 <path d="M754,1320 Q767,1311.5 781,1321.5" stroke="#e29450" stroke-width="5.8"/>
 <path d="M736,1304.5 Q767,1287 802,1308" stroke="#f6c585" stroke-width="2.2"/>
 <path d="M745.5,1312 Q767,1299 792,1314.5" stroke="#f6c585" stroke-width="2.2"/>
 <path d="M754,1320 Q767,1311.5 781,1321.5" stroke="#f6c585" stroke-width="2.2"/>
 <path d="M766.5,1340 L766.5,1327 Q768,1323 769.8,1327 L770.5,1335 Q771,1331 773.5,1332 L774.5,1335 Q775.5,1332.5 777.5,1334 L778.5,1336.5 Q780,1334 782,1335.5 L784.5,1338 L784.5,1348 M766.5,1340 Q763.5,1336 761,1338.5 Q760,1342 761,1344 L765.5,1348" stroke="#111" stroke-width="2.3"/>
</g>
<!-- leader lines -->
<g stroke="#000" stroke-width="6.8" stroke-linecap="butt" fill="none">
 <line x1="322" y1="209.4" x2="660" y2="209.4"/>
 <line x1="911.2" y1="213.5" x2="1249" y2="213.5"/>
 <line x1="393" y1="430.4" x2="730.8" y2="430.4"/>
 <line x1="957" y1="443.4" x2="1294.8" y2="443.4"/>
 <line x1="154.3" y1="592.5" x2="491.5" y2="592.5"/>
 <line x1="827.8" y1="601.3" x2="1128" y2="601.3"/>
 <line x1="217.1" y1="784.3" x2="555" y2="784.3"/>
 <line x1="976.1" y1="791.3" x2="1314" y2="791.3"/>
 <line x1="250.9" y1="972.4" x2="589" y2="972.4"/>
 <line x1="945" y1="975.5" x2="1283" y2="975.5"/>
 <path d="M489,591.5 L750,782.5" stroke-width="5.2"/>
</g>
<g>
<text class="lbl" transform="translate(333.38,176.50) scale(1.1128,1)" font-size="43.48">On/off</text>
<text class="lbl" transform="translate(1113.90,180.00) scale(1.0538,1)" font-size="42.75">Play/pause/set</text>
<text class="lbl" transform="translate(199.31,296.00) scale(0.9683,1)" font-size="26.96">Dynamic mode Speed+</text>
<text class="lbl" transform="translate(184.77,349.30) scale(1.0223,1)" font-size="42.46">White light Mode</text>
<text class="lbl" transform="translate(183.51,397.20) scale(0.9943,1)" font-size="42.46">color adjustment</text>
<text class="lbl" transform="translate(1131.05,365.80) scale(0.9173,1)" font-size="42.90">RGB  Mode</text>
<text class="lbl" transform="translate(1078.81,413.70) scale(0.9927,1)" font-size="42.46">color adjustment</text>
<text class="lbl" transform="translate(61.92,518.90) scale(0.9972,1)" font-size="42.32">RGB Mode/White Light</text>
<text class="lbl" transform="translate(160.80,567.00) scale(0.9744,1)" font-size="42.32">Mode Switch</text>
<text class="lbl" transform="translate(1165.22,539.90) scale(0.9842,1)" font-size="26.38">Dynamic mode Speed-</text>
<text class="lbl" transform="translate(1144.07,587.50) scale(1.0138,1)" font-size="42.75">White light Mode</text>
<text class="lbl" transform="translate(1142.81,635.30) scale(0.9866,1)" font-size="42.75">color adjustment</text>
<text class="lbl" transform="translate(172.27,759.80) scale(1.0000,1)" font-size="42.90">Brightness-</text>
<text class="lbl" transform="translate(1124.17,759.80) scale(0.9986,1)" font-size="42.90">Brightness+</text>
<text class="lbl" transform="translate(232.27,950.90) scale(1.0176,1)" font-size="43.33">Mode-</text>
<text class="lbl" transform="translate(1172.28,950.90) scale(1.0143,1)" font-size="43.33">Mode+</text>
<text class="rf" transform="translate(634.00,1158.00) rotate(0.7) scale(0.9241,1)" font-size="46.38" font-weight="bold">RF Controller</text>
</g>
</svg>
</body></html>
